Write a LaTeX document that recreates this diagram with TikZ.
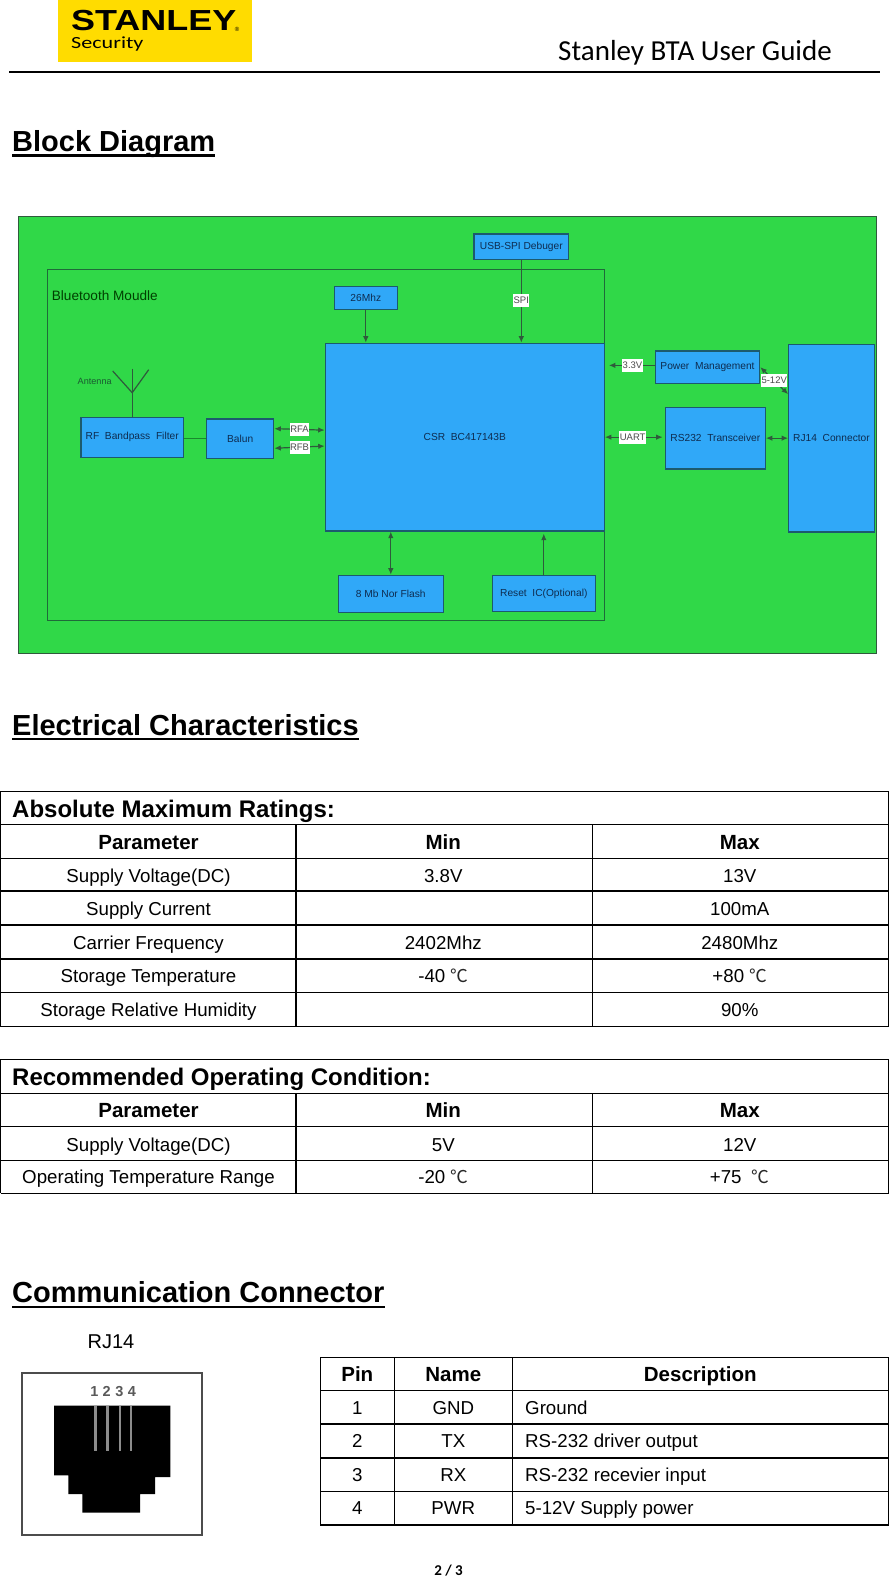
\documentclass[tikz,border=0pt]{standalone}
\usepackage{fontspec}
\setmainfont{Liberation Sans}
\newfontfamily\calibrifont{Carlito}
\newfontfamily\cjkfont{Noto Sans CJK SC}[Scale=0.95]
\usepackage{xcolor}
\usetikzlibrary{arrows.meta}
\definecolor{boardgreen}{HTML}{30D848}
\definecolor{chipblue}{HTML}{30A8F8}
\definecolor{edgeblue}{HTML}{1C5A6E}
\definecolor{wiregreen}{HTML}{2F5A3C}
\definecolor{framegreen}{HTML}{1F6A3A}
\definecolor{chiptext}{HTML}{0E2C50}
\definecolor{logoyellow}{HTML}{FFDC00}
\newcommand{\degc}{{\cjkfont\color{black!85}℃}}
\tikzset{
    chipbox/.style={draw=edgeblue, line width=1.2pt, fill=chipblue, text=chiptext, inner sep=0pt,
        font=\fontsize{10.2}{12}\selectfont},
    wirelink/.style={draw=wiregreen, line width=1.2pt},
    onearrow/.style={wirelink, -{Latex[length=6.5pt,width=5.5pt]}},
    twoarrow/.style={wirelink, {Latex[length=6.5pt,width=5.5pt]}-{Latex[length=6.5pt,width=5.5pt]}},
    wiretag/.style={fill=white, text=black!70, inner sep=0.5pt, minimum height=13pt,
        font=\fontsize{9.5}{11}\selectfont},
    headtext/.style={anchor=base west, inner sep=0pt, font=\bfseries\fontsize{29}{32}\selectfont},
    titlecell/.style={anchor=base west, inner sep=0pt, font=\bfseries\fontsize{24}{26}\selectfont},
    boldcell/.style={anchor=base, inner sep=0pt, font=\bfseries\fontsize{20.5}{23}\selectfont},
    plaincell/.style={anchor=base, inner sep=0pt, font=\fontsize{18.7}{21}\selectfont},
    rule/.style={line width=1.2pt}
}

\begin{document}
\begin{tikzpicture}[x=1pt, y=-1pt]
    \useasboundingbox (0,0) rectangle (889,1579);

    \fill[logoyellow] (58,0) rectangle (252,62);
    \node[anchor=base west, inner sep=0pt, font=\bfseries\fontsize{29}{30}\selectfont] (logoname) at (71,30.7)
        {\scalebox{1.24}[1]{\textbf{STANLEY}}};
    \node[inner sep=0pt, font=\fontsize{6}{6}\selectfont] (logomark) at (237,29) {®};
    \node[anchor=base west, inner sep=0pt, font=\calibrifont\fontsize{17}{18}\selectfont] (logosub) at (71,48.3)
        {\scalebox{1.3}[1]{Security}};
    \node[anchor=base west, inner sep=0pt, font=\calibrifont\fontsize{29}{31}\selectfont] (guide) at (558,61) {Stanley BTA User Guide};
    \coordinate (ruleL) at (9,72);
    \coordinate (ruleR) at (880,72);
    \draw[line width=2pt] (ruleL) -- (ruleR);

    \foreach \nm/\yb/\txt in {blockhead/151.2/Block Diagram, elechead/735/Electrical Characteristics, commhead/1302.5/Communication Connector} {
        \node[headtext] (\nm) at (12,\yb) {\txt};
        \draw[line width=2.4pt] ([yshift=-4.2pt]\nm.base west) -- ([yshift=-4.2pt]\nm.base east);
    }

    % block diagram
    \draw[draw=wiregreen, line width=1pt, fill=boardgreen] (18.3,216) rectangle (876.7,653);
    \draw[draw=framegreen, line width=1.2pt] (47.3,269.3) rectangle (604.3,620.3);
    \node[anchor=west, inner sep=0pt, text=black!75!green, font=\fontsize{13.6}{15}\selectfont] (moduletag) at (51.7,296) {Bluetooth Moudle};

    \node[chipbox, minimum width=279pt, minimum height=187.7pt] (csr) at (464.8,437.15) {CSR~~BC417143B};
    \node[chipbox, minimum width=63pt, minimum height=23pt] (xtal) at (365.8,297.8) {26Mhz};
    \node[chipbox, minimum width=94.7pt, minimum height=25.7pt] (debug) at (521.3,246.8) {USB-SPI Debuger};
    \node[chipbox, minimum width=102.3pt, minimum height=40pt] (filter) at (132.2,437.3) {RF~~Bandpass~~Filter};
    \node[chipbox, minimum width=67pt, minimum height=39.3pt] (balun) at (240.2,438.65) {Balun};
    \node[chipbox, minimum width=105pt, minimum height=37pt] (flash) at (390.8,593.8) {8 Mb Nor Flash};
    \node[chipbox, minimum width=103pt, minimum height=36.4pt] (reset) at (543.8,593.5) {Reset~~IC(Optional)};
    \node[chipbox, minimum width=104.4pt, minimum height=32.3pt] (power) at (707.5,367.15) {Power~~Management};
    \node[chipbox, minimum width=100pt, minimum height=61.7pt] (rs232) at (715.3,438.15) {RS232~~Transceiver};
    \node[chipbox, minimum width=85.6pt, minimum height=187.7pt] (rj14) at (831.5,438.15) {RJ14~~Connector};

    \coordinate (mastTop) at (132.2,392.7);
    \coordinate (tipL) at (112.7,371);
    \coordinate (tipM) at (132.2,368.7);
    \coordinate (tipR) at (148.7,369.7);
    \draw[wirelink] (filter.north) -- (mastTop);
    \draw[wirelink] (tipL) -- (mastTop) -- (tipR);
    \draw[wirelink] (tipM) -- (mastTop);
    \node[inner sep=0pt, text=framegreen!85!black, font=\fontsize{9.1}{11}\selectfont] (antennatag) at (94.7,381.7) {Antenna};

    \draw[wirelink, draw=framegreen!80!green] (filter.east |- balun.west) -- (balun.west);
    \draw[onearrow] (xtal.south) -- (xtal.south |- csr.north);
    \draw[onearrow] (debug.south) -- (debug.south |- csr.north) node[wiretag, pos=.49] (spitag) {SPI};
    \draw[twoarrow] ([yshift=10pt]balun.east) -- ([yshift=7pt]csr.west) node[wiretag, pos=.5] (rfatag) {RFA};
    \draw[twoarrow] ([yshift=-9.6pt]balun.east) -- ([yshift=-8.9pt]csr.west) node[wiretag, pos=.5] (rfbtag) {RFB};
    \draw[twoarrow] (flash.north) -- (flash.north |- csr.south);
    \draw[onearrow] (reset.north) -- ([yshift=-2pt]reset.north |- csr.south);
    \draw[onearrow] ([yshift=1.8pt]power.west) -- ([xshift=4pt,yshift=1.8pt]csr.east |- power.west) node[wiretag, pos=.485] (lowtag) {3.3V};
    \draw[twoarrow] (csr.east) -- ([xshift=-2pt]csr.east -| rs232.west) node[wiretag, pos=.48] (uarttag) {UART};
    \draw[twoarrow] (rs232.east) -- (rj14.west);
    \draw[twoarrow] (power.east) -- ([yshift=44pt]rj14.west) node[wiretag, pos=.5] (hightag) {5-12V};

    % absolute maximum ratings
    \foreach \yl in {791.3,824.3,858.3,891,925,959,992.3,1026.7}
        \draw[rule] (0.5,\yl) -- (888.5,\yl);
    \foreach \xl in {0.5,888.5}
        \draw[rule] (\xl,791.3) -- (\xl,1026.7);
    \foreach \xl in {296,592.4}
        \draw[rule] (\xl,824.3) -- (\xl,1026.7);
    \node[titlecell] (maxtitle) at (12,817) {Absolute Maximum Ratings:};
    \foreach \rw/\yb/\pa/\mi/\ma in {1/882/Supply Voltage(DC)/3.8V/13V, 2/915.7/Supply Current//100mA,
        3/949.3/Carrier Frequency/2402Mhz/2480Mhz, 4/982.7/Storage Temperature/-40 \degc/+80 \degc,
        5/1016.3/Storage Relative Humidity//90\%} {
        \node[plaincell] (max\rw a) at (148.5,\yb) {\pa};
        \node[plaincell] (max\rw b) at (443.3,\yb) {\mi};
        \node[plaincell] (max\rw c) at (739.8,\yb) {\ma};
    }
    \node[boldcell] (maxhead) at (148.5,849.3) {Parameter};
    \node[boldcell] (maxmin) at (443.3,849.3) {Min};
    \node[boldcell] (maxmax) at (739.8,849.3) {Max};

    % recommended operating condition
    \foreach \yl in {1059.3,1093.3,1126.3,1160.3,1193.3}
        \draw[rule] (0.5,\yl) -- (888.5,\yl);
    \foreach \xl in {0.5,888.5}
        \draw[rule] (\xl,1059.3) -- (\xl,1193.3);
    \foreach \xl in {296,592.4}
        \draw[rule] (\xl,1093.3) -- (\xl,1193.3);
    \node[titlecell] (rectitle) at (12,1085.3) {Recommended Operating Condition:};
    \foreach \rw/\yb/\pa/\mi/\ma in {1/1151/Supply Voltage(DC)/5V/12V, 2/1183.7/Operating Temperature Range/-20 \degc/+75~~\degc} {
        \node[plaincell] (rec\rw a) at (148.5,\yb) {\pa};
        \node[plaincell] (rec\rw b) at (443.3,\yb) {\mi};
        \node[plaincell] (rec\rw c) at (739.8,\yb) {\ma};
    }
    \node[boldcell] (rechead) at (148.5,1117.7) {Parameter};
    \node[boldcell] (recmin) at (443.3,1117.7) {Min};
    \node[boldcell] (recmax) at (739.8,1117.7) {Max};

    % connector
    \node[anchor=base, inner sep=0pt, font=\fontsize{20}{22}\selectfont] (jacktag) at (111,1348) {RJ14};
    \draw[draw=black!70, line width=1.7pt] (21.7,1372.7) rectangle (202,1535.3);
    \fill[black] (54,1405.7) -- (170.3,1405.7) -- (170.3,1477) -- (155,1477) -- (155,1494) -- (140,1494)
        -- (140,1512.7) -- (82.3,1512.7) -- (82.3,1494) -- (68.3,1494) -- (68.3,1475.3) -- (54,1475.3) -- cycle;
    \foreach \xl in {95.3,107.3,119.7,131}
        \draw[black!45, line width=2.4pt] (\xl,1405.7) -- (\xl,1450.7);
    \foreach \pn/\xl in {1/94.3,2/106.7,3/119.3,4/132}
        \node[anchor=base, inner sep=0pt, text=black!65, font=\bfseries\fontsize{14.5}{16}\selectfont] (digit\pn) at (\xl,1396.7) {\pn};

    \foreach \yl in {1357.3,1390.3,1424,1458,1491.3,1525}
        \draw[rule] (320.3,\yl) -- (888.5,\yl);
    \foreach \xl in {320.3,394.2,512.4,888.5}
        \draw[rule] (\xl,1357.3) -- (\xl,1525);
    \node[boldcell] (pinhead) at (357.3,1381) {Pin};
    \node[boldcell] (namehead) at (453.3,1381) {Name};
    \node[boldcell] (deschead) at (700.3,1381) {Description};
    \foreach \pn/\yb/\nm/\ds in {1/1414/GND/Ground, 2/1447.7/TX/RS-232 driver output, 3/1481.3/RX/RS-232 recevier input, 4/1514.3/PWR/5-12V Supply power} {
        \node[plaincell] (pin\pn) at (357.3,\yb) {\pn};
        \node[plaincell] (name\pn) at (453.3,\yb) {\nm};
        \node[plaincell, anchor=base west] (desc\pn) at (525,\yb) {\ds};
    }
    \node[anchor=base, inner sep=0pt, font=\calibrifont\bfseries\fontsize{15}{16}\selectfont] (pageno) at (448.5,1575.7) {2 / 3};
\end{tikzpicture}
\end{document}
